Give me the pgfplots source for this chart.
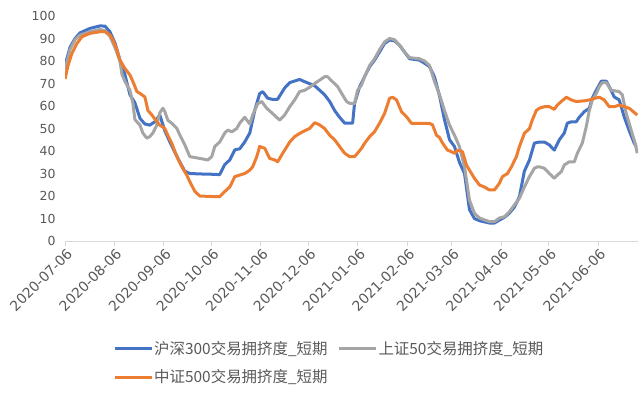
\documentclass[border=0pt]{standalone}
\usepackage{pgfplots}
\pgfplotsset{compat=1.18}
\usepackage{fontspec}
\setmainfont{DejaVu Sans}
\newfontfamily\tickfont{DejaVu Sans}
\newfontfamily\cjk{Noto Sans CJK SC}
\definecolor{sblue}{HTML}{4472C4}
\definecolor{sgray}{HTML}{A5A5A5}
\definecolor{sorange}{HTML}{ED7D31}
\definecolor{txt}{HTML}{595959}
\definecolor{axl}{HTML}{D9D9D9}
\begin{document}
\begin{tikzpicture}
\begin{axis}[
  scale only axis,
  width=573bp, height=225bp,
  xmin=0, xmax=360, ymin=0, ymax=100,
  axis x line*=bottom, axis y line*=left,
  y axis line style={draw=none},
  x axis line style={draw=axl, line width=0.8bp, -},
  ytick={0,10,...,100},
  ytick style={draw=none},
  xtick={0,31,62,92,123,153,184,215,243,274,304,335},
  xticklabels={2020-07-06,2020-08-06,2020-09-06,2020-10-06,2020-11-06,2020-12-06,2021-01-06,2021-02-06,2021-03-06,2021-04-06,2021-05-06,2021-06-06},
  xtick style={draw=axl, line width=0.8bp},
  tick align=outside,
  major tick length=5bp,
  /pgf/number format/assume math mode=true,
  yticklabel style={font=\tickfont\fontsize{12.5}{14}\selectfont, text=txt, xshift=-1bp},
  xticklabel style={font=\tickfont\fontsize{14}{16}\selectfont, text=txt, rotate=45, anchor=east, xshift=3bp, yshift=-7bp},
  legend style={at={(0.0838,-0.44)}, anchor=north west, draw=none, fill=none,
    inner sep=0pt, font=\cjk\fontsize{15.5}{17}\selectfont, text=txt,
    row sep=12bp,
    nodes={inner sep=1bp},
    /tikz/every even column/.append style={column sep=9bp}},
  legend columns=2,
  legend cell align=left,
  legend image code/.code={\draw[#1, line width=3bp] (0bp,0bp) -- (37bp,0bp);},
  every axis plot/.append style={line width=3bp, line join=round},
]
\addplot[sblue] coordinates {
(0,78)(3.1,86)(6.3,90)(9.4,92.5)(15.7,94.5)(22,95.6)(25.1,95.5)(28.2,93)(31.4,88)(34.5,80.4)
(37.6,74)(40.8,65)(43.9,61.5)(47.1,54.5)(50.2,52)(53.3,51.5)(56.5,53)(59.6,56)(62.7,49)(65.9,44)
(69.0,39.5)(72.2,35)(75.3,31)(78.4,30)(84.7,29.8)(91,29.7)(97.2,29.5)(100.4,34)(103.5,36)(106.7,40.5)
(109.8,41)(112.9,44)(116.1,48)(119.2,58)(122.3,65.5)(124.2,66.4)(127.3,63.5)(129.9,63)(133.6,63)(138.0,68)
(141.2,70.4)(147.4,71.8)(150.6,70.8)(156.9,69)(160.0,67)(163.1,65)(166.3,62)(169.4,58)(172.5,55)(175.7,52.4)
(180.7,52.4)(181.9,61)(185.1,68.6)(188.2,73)(191.4,77.5)(194.5,80.4)(197.6,84)(200.8,87.8)(203.9,89.3)(207.0,89)
(210.2,87)(213.3,84)(216.5,81)(222.7,80.4)(225.9,79)(229.0,77.5)(232.1,73)(235.3,64.5)(238.4,54)(241.6,45)
(244.7,42)(247.8,35)(251.0,30)(254.1,14)(257.2,10)(260.4,9)(266.6,8)(269.8,8)(272.9,9.3)(276.1,10.5)
(279.2,12.4)(282.3,15)(285.5,19.7)(288.6,31)(291.8,36)(294.9,43.5)(298.0,44)(301.2,44)(304.3,42.7)(307.4,40.4)
(310.6,45)(313.7,48)(315.6,52.4)(318.1,53)(321.2,53)(323.1,55)(326.3,57.5)(329.4,59)(331.3,63.5)(333.8,67)
(336.9,71)(340.1,71)(341.9,68.6)(345.1,64)(348.2,62.7)(351.4,55)(354.5,49)(357.6,43.5)(358.9,42)
};
\addlegendentry{沪深300交易拥挤度\_短期}
\addplot[sgray] coordinates {
(0,76)(3.1,85)(6.3,89.5)(9.4,91.5)(15.7,93)(22,94)(25.1,93.5)(28.2,91)(31.4,86)(34.5,80)
(35.8,74)(37.6,71)(40.8,67)(42.7,61)(43.9,54)(47.1,51.5)(48.9,48)(51.4,45.7)(53.3,46.4)(55.2,48)
(57.7,51.5)(59.6,57)(61.5,59)(62.7,57.5)(64.6,53.7)(67.1,52.3)(70.3,50)(72.2,47)(75.3,42.7)(78.4,37.5)
(84.7,36.7)(89.7,36)(92.2,37.5)(94.1,42)(97.2,44)(100.4,48)(102.3,49.3)(104.8,48.5)(107.9,50)(109.8,52.4)
(112.9,55)(116.1,52)(117.9,56)(121.1,61)(123.6,62)(126.7,59)(129.9,57)(134.9,53.7)(138.0,56)(141.2,59.7)
(144.3,62.7)(147.4,66.4)(150.6,67)(153.7,68.3)(156.9,70)(160.0,71.5)(163.1,73)(165.0,73)(168.1,70.8)(171.3,68.6)
(173.8,65.6)(176.9,62)(178.8,61.2)(181.9,61)(183.8,67)(186.3,69.3)(188.2,73)(191.4,78)(194.5,81)(197.6,85)
(200.8,88.5)(203.9,90)(207.0,89.5)(210.2,87)(213.3,84)(216.5,81.5)(222.7,81)(225.9,80)(229.0,78)(232.1,71)
(235.3,65)(238.4,58)(241.6,51.5)(244.7,47)(247.8,42)(251.0,33)(254.1,18.2)(257.2,12.4)(260.4,10.2)(266.6,8.6)
(269.8,8.6)(272.9,10.2)(276.1,10.8)(279.2,13)(282.3,16)(285.5,19)(288.6,24)(291.8,28.6)(294.9,32.3)(296.8,33)
(298.0,33)(301.2,32.3)(304.3,30)(307.4,27.9)(309.3,29.3)(311.8,30.8)(313.7,33.8)(316.8,35.2)(320.0,35.2)(321.9,39)
(325.0,43.5)(327.5,50.8)(329.4,58)(331.3,62.7)(333.8,65.6)(335.7,68.6)(337.6,70.4)(340.1,70.4)(343.2,67)(348.2,66.4)
(350.1,65)(352.6,56.7)(355.7,49.3)(358.2,43.5)(359.5,39)
};
\addlegendentry{上证50交易拥挤度\_短期}
\addplot[sorange] coordinates {
(0,72)(1.9,78)(4.4,83.5)(7.5,87.8)(10.7,90.8)(15.7,92.3)(22,93)(25.1,93)(28.2,91.6)(30.1,89.3)
(32.6,85)(34.5,80.4)(37.6,76.7)(40.8,73.8)(42.7,70.8)(45.2,66.4)(47.1,65.6)(50.2,64)(52.1,58)(54.6,56)
(57.7,53)(59.6,51.5)(62.7,50)(64.6,47)(67.1,43.4)(70.3,37.5)(73.4,33)(76.5,29.3)(78.4,26.4)(81.6,22)
(84.7,20)(91,19.8)(97.2,19.7)(100.4,22)(103.5,24)(106.7,28.6)(109.8,29.3)(112.9,30)(116.1,31.5)(117.9,33)
(120.5,37.5)(122.3,42)(125.5,41.2)(128.6,36.7)(131.8,36)(133.6,35.2)(136.8,39)(141.2,44)(144.3,46.4)(147.4,47.8)
(150.6,49)(153.7,50)(156.9,52.6)(160.0,51.6)(163.1,50)(166.3,47)(169.4,45)(172.5,42)(175.7,39)(178.8,37.5)
(181.9,37.5)(183.8,39)(186.3,41.2)(188.2,43.4)(191.4,46.4)(194.5,48.6)(197.6,52.3)(200.8,56.7)(203.9,63.4)(205.8,63.9)
(208.3,62.7)(211.4,57.5)(214.6,55.2)(217.7,52.3)(222.7,52.3)(229.0,52.3)(230.9,51.6)(233.4,47)(235.3,46)(237.2,43.5)
(240.3,40.4)(242.8,39.7)(244.7,39)(246.6,40.4)(249.7,39.7)(252.2,33.8)(254.1,31.5)(257.2,27.9)(260.4,24.9)(263.5,24)
(266.6,22.7)(269.8,22.7)(272.9,25.6)(274.8,28.6)(278.0,30)(280.5,33)(283.6,37.5)(285.5,42)(288.6,47.8)(291.8,50)
(293.6,53.8)(296.1,58)(298.0,59)(301.2,59.7)(304.3,59.7)(307.4,58.5)(309.3,60.4)(311.8,62)(315.0,63.9)(318.1,62.7)
(321.2,62)(326.3,62.3)(329.4,62.7)(332.6,63.4)(335.7,63.9)(338.8,62.7)(341.9,59.7)(345.1,59.7)(348.2,60.4)(351.4,59.7)
(354.5,59)(357.0,57.5)(359.5,56)
};
\addlegendentry{中证500交易拥挤度\_短期}
\end{axis}
\pgfresetboundingbox
\path (-65bp,-156bp) rectangle (579bp,241bp);
\end{tikzpicture}
\end{document}
